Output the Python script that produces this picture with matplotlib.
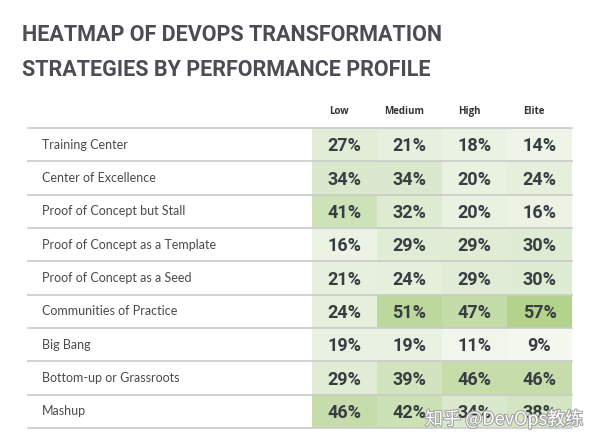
import numpy as np
import matplotlib
matplotlib.use('Agg')
import matplotlib.pyplot as plt
from matplotlib.colors import LinearSegmentedColormap
import matplotlib.patheffects as pe

# data
strategies = ['Training Center', 'Center of Excellence', 'Proof of Concept but Stall',
              'Proof of Concept as a Template', 'Proof of Concept as a Seed',
              'Communities of Practice', 'Big Bang', 'Bottom-up or Grassroots', 'Mashup']
profiles = ['Low', 'Medium', 'High', 'Elite']
low = [27, 34, 41, 16, 21, 24, 19, 29, 46]
medium = [21, 34, 32, 29, 24, 51, 19, 39, 42]
high = [18, 20, 20, 29, 29, 47, 11, 46, 34]
elite = [14, 24, 16, 30, 30, 57, 9, 46, 38]

W, H = 600, 448
fig = plt.figure(figsize=(W / 100, H / 100), dpi=100)

# heatmap area in pixels: x 312..572, y 128..428
x0, x1, y0, y1 = 312, 572, 128, 428
ax = fig.add_axes([x0 / W, 1 - y1 / H, (x1 - x0) / W, (y1 - y0) / H])

vals = np.array([low, medium, high, elite]).T
cmap = LinearSegmentedColormap.from_list('grn', ['#f3f7ee', '#dcead0', '#b3d28c'])
ax.pcolormesh(np.arange(5), np.arange(10), vals, cmap=cmap, vmin=9, vmax=57)
ax.set_xlim(0, 4)
ax.set_ylim(9, 0)
ax.axis('off')

cw = (x1 - x0) / 4.0  # px per column
left_data = (28 - x0) / cw

for i, name in enumerate(strategies):
    for j in range(4):
        ax.text(j + 0.5, i + 0.55, '%d%%' % vals[i, j], ha='center', va='center',
                fontsize=13, fontweight='bold', family='Roboto', color='#383d42')
    ax.text(left_data + 14 / cw, i + 0.5, name, ha='left', va='center',
            fontsize=9, family='Lato', color='#4a4a4a')

for k in range(10):
    ax.plot([left_data, 4], [k, k], color='#c9cbc9', lw=1.2, clip_on=False)

for j, p in enumerate(profiles):
    ax.text(j + 0.42, -0.5, p, ha='center', va='center', fontsize=7,
            fontweight='bold', family='Open Sans', color='#333333')

title_kw = dict(fontsize=15.5, fontweight='bold', family='Roboto', color='#4a4d52',
                va='baseline')
fig.text(22 / W, 1 - 41 / H, 'HEATMAP OF DEVOPS TRANSFORMATION', **title_kw)
fig.text(22 / W, 1 - 76 / H, 'STRATEGIES BY PERFORMANCE PROFILE', **title_kw)

# watermark
fig.text(425 / W, 1 - 419 / H, '知乎 @DevOps教练', fontsize=13,
         family=['Noto Sans CJK SC', 'DejaVu Sans'], color='white', va='center',
         path_effects=[pe.withStroke(linewidth=1.5, foreground='#a0a0a0')])

fig.savefig('out.png', dpi=100)
